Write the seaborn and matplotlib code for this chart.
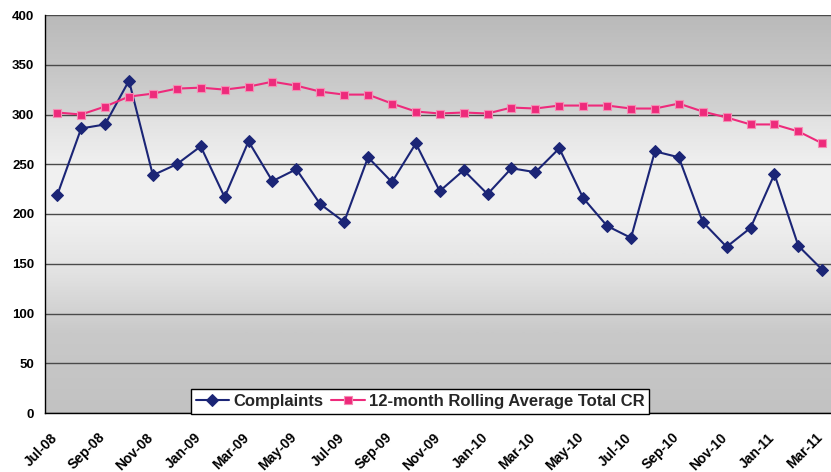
import numpy as np
import pandas as pd
import matplotlib
matplotlib.use("Agg")
import matplotlib.pyplot as plt
import matplotlib.transforms as mtransforms
from matplotlib.colors import LinearSegmentedColormap
import seaborn as sns

months = ["Jul-08", "Aug-08", "Sep-08", "Oct-08", "Nov-08", "Dec-08",
          "Jan-09", "Feb-09", "Mar-09", "Apr-09", "May-09", "Jun-09",
          "Jul-09", "Aug-09", "Sep-09", "Oct-09", "Nov-09", "Dec-09",
          "Jan-10", "Feb-10", "Mar-10", "Apr-10", "May-10", "Jun-10",
          "Jul-10", "Aug-10", "Sep-10", "Oct-10", "Nov-10", "Dec-10",
          "Jan-11", "Feb-11", "Mar-11"]
complaints = [219, 286, 290, 334, 239, 250, 268, 217, 273, 233, 245, 210,
              192, 257, 232, 271, 223, 244, 220, 246, 242, 266, 216, 188,
              176, 263, 257, 192, 167, 186, 240, 168, 144]
rolling = [302, 300, 308, 318, 321, 326, 327, 325, 328, 333, 329, 323,
           320, 320, 311, 303, 301, 302, 301, 307, 306, 309, 309, 309,
           306, 306, 311, 303, 297, 290, 290, 283, 271]
y_ticks = [0, 50, 100, 150, 200, 250, 300, 350, 400]

sns.set_theme(style="white")
plt.rcParams["font.family"] = ["Liberation Sans", "DejaVu Sans"]

W, H = 831, 472
fig = plt.figure(figsize=(W / 100, H / 100), dpi=100)
left, right, top, bottom = 45.3, 834.2, 15, 413
ax = fig.add_axes([left / W, (H - bottom) / H, (right - left) / W, (bottom - top) / H])

df = pd.DataFrame({"idx": np.arange(len(months)), "Month": months,
                   "Complaints": complaints, "Rolling": rolling})

# background gradient
cmap = LinearSegmentedColormap.from_list("bg", [
    (0.0, "#c2c2c2"), (0.2, "#c9c9c9"), (0.35, "#e2e2e2"), (0.5, "#f1f1f1"),
    (0.62, "#f0f0f0"), (0.74, "#e2e2e2"), (0.76, "#d2d2d2"), (0.87, "#c6c6c6"),
    (1.0, "#bababa")])
grad = np.linspace(0, 1, 400).reshape(-1, 1)
ax.imshow(grad, cmap=cmap, aspect="auto", origin="lower",
          extent=(-0.5, len(months) - 0.5, 0, 400), zorder=0, interpolation="bilinear")

navy = "#1b2576"
pink = "#ee2a7b"
sns.lineplot(data=df, x="idx", y="Complaints", ax=ax, color=navy, marker="D",
             markersize=6, markeredgecolor=navy, markerfacecolor=navy,
             linewidth=1.5, label="Complaints", zorder=4)
sns.lineplot(data=df, x="idx", y="Rolling", ax=ax, color=pink, marker="s",
             markersize=6, markeredgecolor="#f58cb4", markerfacecolor=pink,
             markeredgewidth=0.8, linewidth=1.5,
             label="12-month Rolling Average Total CR", zorder=4)

ax.set_xlim(-0.5, len(months) - 0.5)
ax.set_ylim(0, 400)
ax.set_xlabel("")
ax.set_ylabel("")

ax.set_yticks(y_ticks)
ax.set_yticklabels([str(v) for v in y_ticks], fontweight="bold", fontsize=9.5)
ax.tick_params(axis="y", length=5, width=1, direction="out", color="black", pad=3, labelcolor="black")
ax.yaxis.grid(True, color="#4a4a4a", linewidth=1.0)
for gl in ax.get_ygridlines():
    gl.set_zorder(1)

xt = list(range(0, len(months), 2))
ax.set_xticks(xt)
ax.set_xticklabels(months[::2], rotation=45, ha="right", va="top",
                   rotation_mode="anchor", fontweight="bold", fontsize=10, color="black")
ax.set_xticks(np.arange(-0.5, len(months), 2), minor=True)
ax.tick_params(axis="x", which="major", length=0, pad=12.5)
ax.tick_params(axis="x", which="minor", length=4, width=1, direction="out", color="black")
offset = mtransforms.ScaledTranslation(-7 / 100, 0, fig.dpi_scale_trans)
for lab in ax.get_xticklabels():
    lab.set_transform(lab.get_transform() + offset)

for s in ["top", "right"]:
    ax.spines[s].set_visible(False)
for s in ["left", "bottom"]:
    ax.spines[s].set_visible(True)
    ax.spines[s].set_color("black")
    ax.spines[s].set_linewidth(1.0)

leg = ax.legend(ncol=2, loc="lower center", bbox_to_anchor=(420 / W, (H - 414) / H),
                bbox_transform=fig.transFigure, frameon=True, fancybox=False,
                edgecolor="black", facecolor="white", framealpha=1,
                prop={"weight": "bold", "size": 12}, handlelength=2.0,
                handletextpad=0.25, columnspacing=0.5, borderpad=0.3,
                borderaxespad=0)
leg.get_frame().set_linewidth(1.0)
leg.set_zorder(10)

fig.savefig("out.png", dpi=100)
